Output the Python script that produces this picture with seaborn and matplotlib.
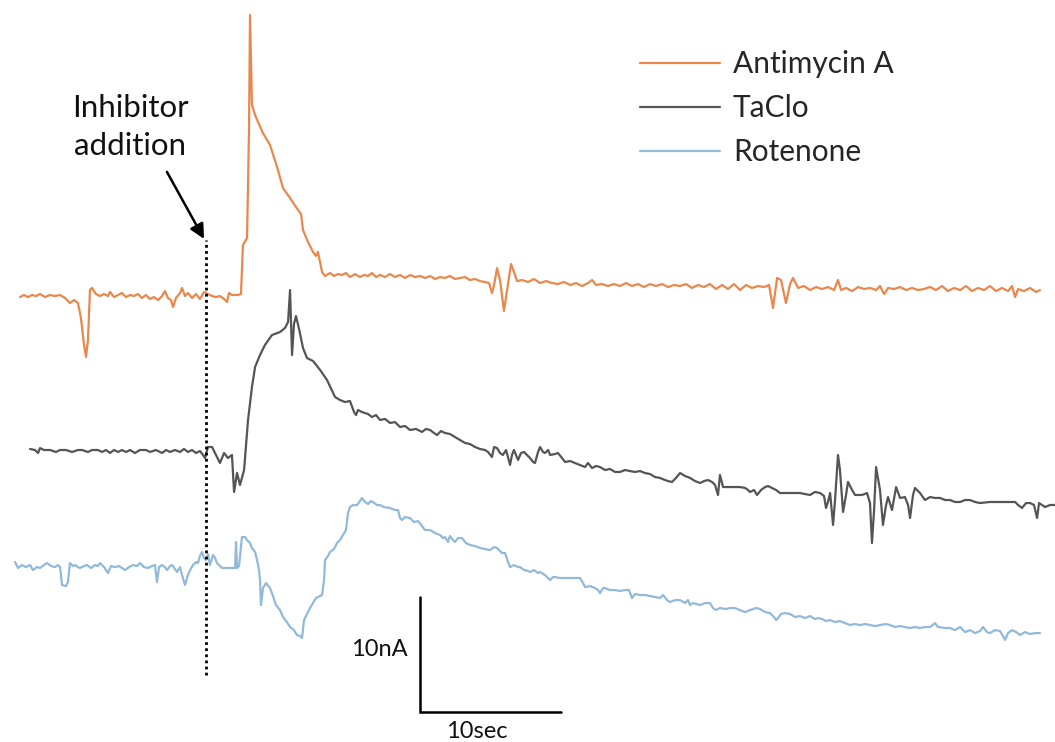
import numpy as np
import pandas as pd
import matplotlib
matplotlib.use("Agg")
import matplotlib.pyplot as plt
from matplotlib.lines import Line2D
import seaborn as sns

# ---- amperometric traces: time relative to inhibitor addition (s), current relative to baseline (nA)
t_antimycin = [-13.19, -12.91, -12.62, -12.34, -12.06, -11.77, -11.42, -11.06, -10.71, -10.35, -10.00, -9.65,
               -9.36, -9.08, -8.87, -8.65, -8.51, -8.37, -8.23, -8.09, -7.80, -7.52, -7.23, -6.95, -6.81, -6.52,
               -6.24, -5.96, -5.67, -5.39, -5.11, -4.82, -4.54, -4.26, -3.97, -3.69, -3.40, -3.12, -2.91, -2.70,
               -2.48, -2.34, -2.13, -1.84, -1.70, -1.49, -1.28, -0.99, -0.71, -0.43, -0.14, 0.14, 0.43, 0.71,
               0.99, 1.28, 1.49, 1.63, 1.84, 2.27, 2.48, 2.62, 2.91, 3.05, 3.12, 3.26, 3.48, 3.69, 4.04, 4.54,
               5.04, 5.46, 5.96, 6.38, 6.74, 6.88, 7.23, 7.59, 7.80, 7.94, 8.23, 8.44, 8.79, 9.08, 9.36, 9.65,
               9.93, 10.21, 10.57, 10.92, 11.21, 11.49, 11.77, 12.06, 12.34, 12.70, 13.05, 13.40, 13.76, 14.11,
               14.47, 14.82, 15.18, 15.53, 15.89, 16.24, 16.60, 16.95, 17.30, 17.66, 18.01, 18.37, 18.72, 19.08,
               19.43, 19.79, 20.07, 20.28, 20.43, 20.64, 20.85, 21.13, 21.35, 21.63, 21.84, 22.06, 22.41, 22.84,
               23.26, 23.69, 24.11, 24.54, 24.96, 25.39, 25.82, 26.24, 26.67, 27.09, 27.38, 27.66, 28.09, 28.51,
               28.94, 29.36, 29.79, 30.21, 30.64, 31.06, 31.49, 31.91, 32.34, 32.77, 33.19, 33.62, 34.04, 34.47,
               34.89, 35.32, 35.74, 36.17, 36.60, 37.02, 37.45, 37.87, 38.30, 38.72, 39.15, 39.57, 39.93, 40.21,
               40.50, 40.78, 41.13, 41.42, 41.63, 41.99, 42.41, 42.84, 43.26, 43.69, 44.11, 44.54, 44.82, 45.04,
               45.39, 45.82, 46.24, 46.67, 47.09, 47.52, 47.80, 48.09, 48.37, 48.79, 49.22, 49.65, 50.07, 50.50,
               50.92, 51.35, 51.77, 52.20, 52.62, 53.05, 53.48, 53.90, 54.33, 54.75, 55.18, 55.60, 56.03, 56.45,
               56.88, 57.16, 57.38, 57.59, 58.01, 58.44, 58.87, 59.15]
i_antimycin = [-0.09, 0.09, -0.09, 0.09, 0.00, 0.17, -0.09, 0.09, 0.00, 0.09, -0.17, -0.61,
               -0.35, -0.61, -1.91, -4.26, -5.30, -3.83, 0.52, 0.70, 0.17, 0.00, 0.17, 0.00, 0.35, -0.09,
               0.09, 0.26, -0.09, 0.09, 0.00, 0.17, -0.17, 0.09, -0.26, -0.09, -0.35, 0.00, 0.43, -0.17,
               -0.35, -0.96, -0.17, 0.26, 0.70, 0.00, 0.26, -0.17, 0.17, -0.26, 0.35, 0.17, 0.00, -0.09,
               0.00, -0.26, -0.52, 0.26, 0.09, 0.09, 0.17, 4.43, 5.04, 14.43, 24.43, 16.61, 15.74, 15.13, 14.17, 13.13,
               11.22, 9.39, 8.52, 7.74, 7.13, 5.74, 4.70, 3.83, 3.48, 3.83, 2.09, 1.74, 2.00, 1.74, 1.91, 1.83,
               2.00, 1.65, 1.91, 1.65, 1.83, 1.74, 2.00, 1.65, 1.83, 1.65, 1.91, 1.65, 1.83, 1.57,
               1.83, 1.65, 1.74, 1.57, 1.74, 1.48, 1.65, 1.57, 1.74, 1.48, 1.57, 1.65, 1.39, 1.48,
               1.30, 1.22, 1.13, 0.26, 0.96, 2.43, 1.39, -1.30, 0.52, 2.78, 2.09, 1.30, 1.39, 1.22,
               1.48, 1.13, 1.30, 1.13, 1.04, 1.22, 0.96, 1.13, 0.87, 1.13, 1.39, 0.96, 1.04, 0.87,
               1.04, 0.87, 1.13, 0.87, 1.04, 0.78, 1.04, 0.87, 1.04, 0.78, 0.96, 0.87, 1.04, 0.70,
               0.96, 0.78, 1.04, 0.61, 0.96, 0.61, 1.04, 0.52, 0.96, 0.70, 0.87, 0.78, 0.96, -1.04,
               1.57, 1.39, -0.61, 1.04, 1.57, 0.70, 0.87, 0.52, 0.78, 0.61, 0.78, 0.52, 1.39, 0.52,
               0.70, 0.43, 0.78, 0.61, 0.70, 0.52, 0.87, 0.17, 0.70, 0.61, 0.78, 0.52, 0.70, 0.52,
               0.61, 0.78, 0.52, 0.87, 0.43, 0.70, 0.52, 0.87, 0.43, 0.70, 0.52, 0.87, 0.43, 0.70,
               0.43, 0.87, -0.09, 0.61, 0.43, 0.70, 0.35, 0.52]

t_taclo = [-12.48, -12.13, -11.91, -11.77, -11.49, -11.06, -10.64, -10.35, -9.93, -9.50, -9.08, -8.79,
           -8.37, -8.09, -7.66, -7.38, -7.09, -6.81, -6.52, -6.24, -5.96, -5.67, -5.39, -5.04, -4.68, -4.26,
           -3.97, -3.55, -3.12, -2.84, -2.55, -2.20, -1.84, -1.56, -1.28, -0.99, -0.71, -0.43, -0.21, -0.07,
           0.14, 0.43, 0.71, 0.99, 1.28, 1.56, 1.84, 1.99, 2.20, 2.41, 2.70, 2.98, 3.26, 3.48, 3.83, 4.18,
           4.68, 5.25, 5.60, 5.82, 5.96, 6.10, 6.24, 6.38, 6.60, 6.88, 7.16, 7.59, 8.09, 8.58, 9.15, 9.50,
           9.86, 10.21, 10.50, 10.64, 10.78, 11.06, 11.49, 11.77, 12.06, 12.34, 12.70, 13.05, 13.40, 13.76,
           14.11, 14.47, 14.89, 15.32, 15.60, 15.89, 16.17, 16.38, 16.67, 16.95, 17.30, 17.66, 18.01, 18.37,
           18.72, 19.08, 19.43, 19.79, 20.00, 20.28, 20.43, 20.64, 20.85, 21.06, 21.28, 21.56, 21.70, 21.84,
           22.13, 22.34, 22.55, 22.84, 22.98, 23.19, 23.33, 23.55, 23.69, 23.90, 24.04, 24.26, 24.40, 24.75,
           24.96, 25.25, 25.46, 25.82, 26.17, 26.52, 26.88, 27.09, 27.38, 27.66, 27.94, 28.30, 28.65, 29.01,
           29.36, 29.72, 30.07, 30.43, 30.78, 31.13, 31.49, 31.84, 32.20, 32.55, 32.77, 33.05, 33.33, 33.62,
           33.97, 34.33, 34.68, 35.04, 35.32, 35.60, 35.89, 36.10, 36.31, 36.45, 36.67, 37.16, 37.87, 38.23,
           38.44, 38.58, 38.87, 39.08, 39.36, 39.65, 39.86, 40.14, 40.43, 40.71, 41.42, 42.13, 42.48, 42.84,
           43.19, 43.55, 43.83, 43.97, 44.11, 44.26, 44.47, 44.61, 44.82, 44.96, 45.18, 45.39, 45.53, 45.82,
           46.03, 46.52, 46.88, 47.09, 47.23, 47.38, 47.52, 47.80, 48.01, 48.23, 48.37, 48.65, 48.94, 49.22,
           49.57, 49.79, 49.93, 50.14, 50.28, 50.64, 50.99, 51.35, 51.70, 52.06, 52.41, 52.77, 53.12, 53.48,
           53.83, 54.18, 54.54, 54.89, 55.60, 56.31, 57.02, 57.38, 57.59, 57.87, 58.16, 58.44, 58.72, 58.94,
           59.08, 59.50, 59.86, 60.21]
i_taclo = [0.09, 0.00, -0.26, 0.17, 0.00, 0.00, -0.17, 0.00, 0.00, -0.17, 0.00, 0.00,
           -0.17, 0.00, 0.00, -0.17, 0.00, -0.26, 0.00, -0.17, 0.00, -0.17, 0.00, -0.26, 0.00, 0.00,
           -0.17, 0.00, -0.26, 0.00, -0.17, 0.00, -0.17, 0.09, -0.17, 0.00, -0.26, -0.09, -0.43, -0.70,
           0.26, 0.26, -0.43, -1.13, -0.26, -0.70, -0.43, -3.65, -2.00, -3.04, -1.74, 2.61, 5.48, 7.22, 8.26, 9.13,
           10.00, 10.26, 10.61, 11.13, 13.91, 8.26, 10.96, 11.65, 10.52, 8.87, 8.00, 7.74, 6.96, 6.09, 4.61, 4.35,
           4.17, 4.26, 3.30, 3.04, 3.48, 3.30, 3.13, 2.87, 3.04, 2.61, 2.70, 2.35, 2.43, 2.00,
           2.09, 1.74, 1.83, 1.57, 1.83, 1.74, 1.48, 1.30, 1.65, 1.48, 1.39, 1.13, 0.87, 0.61,
           0.52, 0.26, 0.09, 0.00, -0.17, -0.61, 0.26, 0.17, -0.26, -0.43, 0.00, -1.30, -0.43, 0.00,
           -0.87, -0.26, -0.17, -0.52, -0.70, -1.04, -1.13, -0.17, 0.26, -0.17, -0.26, 0.00, -0.43, -0.35,
           -0.26, -0.70, -1.04, -0.96, -1.13, -1.30, -1.48, -1.13, -1.57, -1.39, -1.48, -1.74, -1.65, -1.91,
           -1.91, -1.74, -1.83, -1.91, -1.83, -2.00, -2.09, -2.35, -2.43, -2.61, -2.70, -2.78, -2.43, -2.00,
           -2.26, -2.43, -2.70, -2.87, -2.70, -2.61, -2.78, -3.04, -3.91, -2.17, -3.22, -3.22, -3.22, -3.30,
           -3.48, -3.65, -3.48, -3.91, -3.48, -3.22, -3.13, -3.30, -3.48, -3.74, -3.74, -3.74, -3.83, -3.91,
           -3.65, -3.74, -4.00, -5.04, -4.52, -3.74, -6.52, -4.35, -0.43, -1.74, -5.39, -3.91, -2.78, -3.48,
           -3.91, -3.91, -3.74, -4.61, -8.09, -5.22, -1.48, -3.48, -6.52, -4.78, -4.09, -5.22, -3.22, -4.17,
           -4.09, -4.78, -5.91, -3.91, -3.30, -3.74, -4.35, -4.09, -4.17, -4.17, -4.35, -4.35, -4.52, -4.52,
           -4.35, -4.35, -4.52, -4.61, -4.52, -4.52, -4.52, -4.52, -4.78, -5.04, -4.61, -4.61, -4.78, -5.91,
           -4.61, -4.96, -4.78, -4.78]

t_rotenone = [-13.55, -13.33, -13.05, -12.77, -12.48, -12.27, -11.99, -11.77, -11.49, -11.28, -10.99, -10.71,
              -10.50, -10.35, -10.21, -9.93, -9.79, -9.65, -9.43, -9.29, -9.08, -8.94, -8.65, -8.44, -8.16, -7.87,
              -7.66, -7.52, -7.23, -6.95, -6.74, -6.45, -6.17, -5.96, -5.74, -5.46, -5.18, -4.89, -4.68, -4.40,
              -4.11, -3.83, -3.62, -3.48, -3.33, -3.12, -2.91, -2.77, -2.55, -2.41, -2.20, -2.06, -1.84, -1.70,
              -1.49, -1.28, -1.13, -0.92, -0.71, -0.57, -0.43, -0.28, -0.14, 0.00, 0.14, 0.28, 0.50, 0.64, 0.78,
              1.13, 1.56, 2.06, 2.13, 2.20, 2.34, 2.55, 2.77, 2.91, 3.12, 3.26, 3.48, 3.62, 3.76, 3.83, 3.90,
              4.04, 4.26, 4.54, 4.75, 4.96, 5.25, 5.46, 5.74, 5.96, 6.24, 6.45, 6.67, 6.81, 6.95, 7.16, 7.38,
              7.59, 7.80, 8.09, 8.23, 8.37, 8.44, 8.65, 8.79, 9.08, 9.29, 9.50, 9.72, 9.93, 10.07, 10.21, 10.43,
              10.71, 10.92, 11.06, 11.28, 11.49, 11.70, 11.84, 12.13, 12.34, 12.62, 13.05, 13.40, 13.62, 13.76,
              13.90, 14.11, 14.47, 14.75, 15.04, 15.32, 15.53, 15.89, 16.24, 16.60, 16.81, 16.95, 17.16, 17.30,
              17.52, 17.66, 17.87, 18.16, 18.44, 18.72, 19.08, 19.43, 19.79, 20.14, 20.43, 20.64, 20.99, 21.21,
              21.42, 21.56, 21.84, 22.13, 22.27, 22.55, 22.84, 22.98, 23.26, 23.55, 23.69, 24.04, 24.40, 24.61,
              24.75, 25.11, 25.46, 25.96, 26.52, 26.74, 26.88, 27.23, 27.59, 27.80, 27.94, 28.16, 28.30, 28.65,
              29.01, 29.36, 29.72, 30.00, 30.21, 30.43, 30.78, 31.13, 31.49, 31.84, 32.20, 32.41, 32.70, 32.91,
              33.26, 33.62, 33.97, 34.18, 34.33, 34.54, 35.04, 35.39, 35.74, 35.96, 36.17, 36.45, 36.88, 37.16,
              37.52, 37.87, 38.23, 38.58, 39.01, 39.29, 39.65, 40.00, 40.28, 40.43, 40.57, 40.78, 41.06, 41.42,
              41.77, 42.13, 42.48, 42.84, 43.19, 43.40, 43.69, 43.97, 44.26, 44.61, 44.96, 45.32, 45.67, 46.03,
              46.38, 46.74, 47.09, 47.45, 47.80, 48.23, 48.51, 48.87, 49.22, 49.57, 49.93, 50.28, 50.64, 50.99,
              51.35, 51.70, 51.91, 52.41, 52.77, 53.12, 53.48, 53.83, 54.18, 54.54, 54.89, 55.11, 55.39, 55.60,
              55.96, 56.31, 56.52, 56.67, 56.88, 57.16, 57.45, 57.73, 58.09, 58.44, 58.79, 59.15]
i_rotenone = [0.35, -0.17, 0.09, -0.09, 0.09, -0.35, -0.09, -0.17, 0.09, 0.26, 0.00, -0.09,
              0.09, -0.09, -1.65, -1.74, -1.39, 0.26, 0.00, 0.09, -0.09, -0.17, 0.00, 0.09, -0.17, 0.09,
              0.00, 0.26, -0.09, -0.61, 0.00, -0.09, 0.00, -0.17, -0.35, -0.09, 0.09, 0.00, 0.26, -0.09,
              -0.17, 0.00, 0.09, -1.39, -0.09, 0.09, -0.09, -0.35, 0.00, 0.09, -0.26, -0.52, -0.09, -0.78,
              -1.65, -0.78, -0.35, 0.09, 0.35, 0.26, 0.87, 1.22, 0.70, 0.52, 1.04, 0.09, 0.96, 0.70, 0.26,
              -0.17, -0.17, -0.17, 2.09, -0.17, 0.00, 2.52, 2.52, 2.26, 2.00, 1.57, 1.22, 0.52, -0.35, -1.22, -3.39,
              -1.91, -1.48, -1.91, -2.61, -3.39, -3.83, -4.43, -4.87, -5.30, -5.57, -6.00, -6.09, -6.26, -4.70, -4.17, -3.65,
              -3.22, -2.78, -2.61, -2.52, -1.22, 0.52, 0.87, 1.22, 1.48, 2.00, 2.26, 2.70, 3.13, 4.61, 5.13, 5.30,
              5.30, 5.65, 5.91, 5.57, 5.39, 5.65, 5.57, 5.30, 5.30, 5.13, 5.04, 4.87, 4.87, 4.17,
              4.00, 4.26, 4.17, 3.83, 3.91, 3.48, 3.13, 3.13, 2.87, 2.70, 2.43, 2.52, 2.09, 2.61,
              2.26, 2.09, 2.43, 2.43, 2.00, 1.83, 1.74, 1.57, 1.48, 1.39, 1.65, 1.57, 1.13, 1.13,
              0.35, -0.09, 0.09, -0.09, -0.09, -0.35, -0.43, -0.52, -0.35, -0.61, -0.52, -0.78, -1.22, -0.96,
              -0.96, -1.04, -1.04, -1.04, -1.04, -1.48, -1.83, -1.74, -1.91, -2.09, -2.35, -1.91, -1.91, -2.09,
              -2.09, -2.17, -2.09, -2.09, -2.78, -2.43, -2.52, -2.52, -2.61, -2.70, -2.78, -2.52, -2.96, -3.13,
              -2.96, -2.96, -3.22, -2.96, -3.39, -3.22, -3.39, -3.22, -3.22, -3.65, -3.83, -3.65, -3.74, -3.65,
              -3.65, -3.83, -4.00, -3.83, -3.65, -3.74, -4.00, -4.09, -4.43, -4.70, -4.52, -4.17, -4.09, -4.17,
              -4.43, -4.35, -4.52, -4.35, -4.61, -4.52, -4.61, -4.78, -4.70, -4.87, -4.78, -4.96, -5.13, -5.04,
              -5.13, -5.04, -5.13, -5.22, -5.13, -5.04, -5.13, -5.30, -5.22, -5.30, -5.39, -5.30, -5.39, -5.30,
              -5.30, -4.96, -5.30, -5.39, -5.39, -5.57, -5.30, -5.74, -5.57, -5.83, -5.65, -5.30, -5.74, -5.83,
              -5.57, -5.65, -6.09, -6.43, -5.83, -5.57, -5.74, -6.00, -5.74, -5.91, -5.83, -5.83]

trace_names = ["Antimycin A", "TaClo", "Rotenone"]
trace_colors = ["#E8884C", "#555555", "#93B9DA"]
# vertical stacking of the traces (nA)
trace_offsets = [38.78, 25.39, 15.30]

scale_current = 10   # nA
scale_time = 10      # s

frames = []
for name, t, i, off in zip(trace_names,
                           [t_antimycin, t_taclo, t_rotenone],
                           [i_antimycin, i_taclo, i_rotenone],
                           trace_offsets):
    d = pd.DataFrame({"time_s": t, "current_nA": i})
    d["trace"] = name
    d["stacked"] = d["current_nA"] + off
    frames.append(d)
df = pd.concat(frames, ignore_index=True)

sns.set_theme(style="white")
plt.rcParams["font.family"] = ["Lato", "DejaVu Sans"]

fig = plt.figure(figsize=(10.55, 7.42), dpi=100)
ax = fig.add_axes([0, 0, 1, 1])
ax.set_xlim(-14.61, 60.21)
ax.set_ylim(0, 64.52)
ax.axis("off")

sns.lineplot(data=df, x="time_s", y="stacked", hue="trace", hue_order=trace_names,
             palette=trace_colors, estimator=None, sort=False, linewidth=1.6,
             legend=False, ax=ax)

# inhibitor addition marker
ax.plot([0, 0], [5.83, 43.65], color="black", linestyle=(0, (1, 1.2)), linewidth=2.0)
ax.annotate("", xy=(-0.14, 43.74), xytext=(-2.77, 49.57),
            arrowprops=dict(arrowstyle="-|>", color="black", lw=1.8, mutation_scale=22,
                            shrinkA=0, shrinkB=0))
ax.text(-5.39, 55.13, "Inhibitor", ha="center", va="center", fontsize=22.5, color="#111111")
ax.text(-5.39, 51.83, "addition", ha="center", va="center", fontsize=22.5, color="#111111")

# scale bar
sb_t, sb_y = 15.18, 2.61
ax.plot([sb_t, sb_t, sb_t + scale_time], [sb_y + scale_current, sb_y, sb_y],
        color="black", linewidth=1.8, solid_joinstyle="miter")
ax.text(sb_t - 0.9, sb_y + scale_current * 0.54, f"{scale_current}nA", ha="right", va="center",
        fontsize=17, color="#111111")
ax.text(sb_t + scale_time * 0.4, sb_y - 1.74, f"{scale_time}sec", ha="center", va="center",
        fontsize=17, color="#111111")

handles = [Line2D([0], [0], color=c, lw=1.6) for c in trace_colors]
ax.legend(handles, trace_names, loc="upper left", bbox_to_anchor=(0.6066, 0.932),
          frameon=False, borderaxespad=0, borderpad=0, fontsize=21.5,
          handlelength=2.68, handletextpad=0.43, labelspacing=0.53)

fig.savefig("out.png", dpi=100)
